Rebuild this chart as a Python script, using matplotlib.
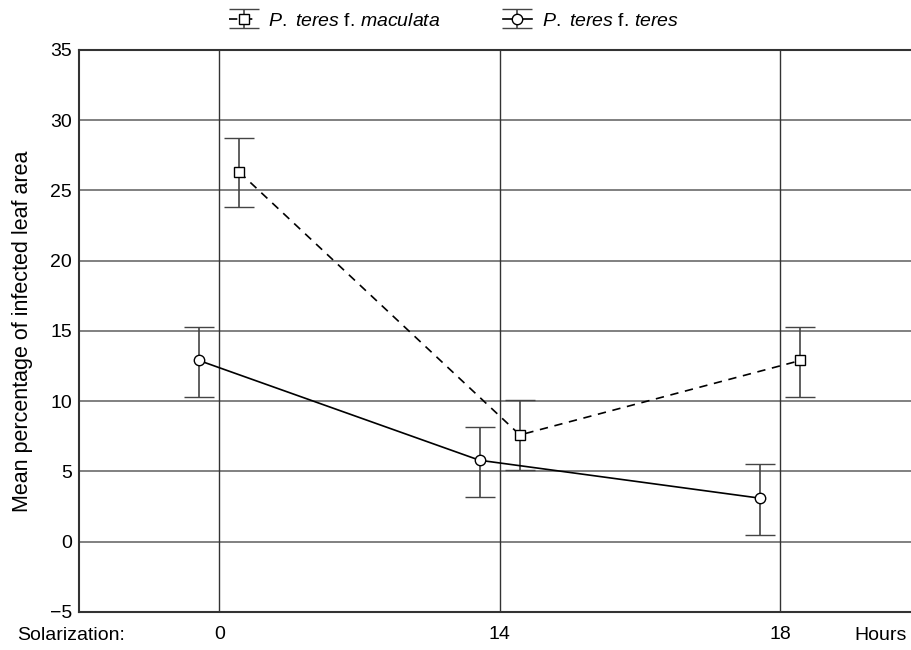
import matplotlib
matplotlib.use("Agg")
import matplotlib.pyplot as plt
import numpy as np

plt.rcParams['font.family'] = ['Liberation Sans', 'DejaVu Sans']
plt.rcParams['mathtext.fontset'] = 'custom'
plt.rcParams['mathtext.it'] = 'Liberation Sans:italic'
plt.rcParams['mathtext.rm'] = 'Liberation Sans'

# Solarization time (hours) as categories
hours = ["0", "14", "18"]

# P. teres f. maculata
mac_mean = [26.3, 7.6, 12.9]
mac_low = [23.8, 5.1, 10.3]
mac_high = [28.7, 10.1, 15.3]

# P. teres f. teres
ter_mean = [12.9, 5.8, 3.1]
ter_low = [10.3, 3.2, 0.5]
ter_high = [15.3, 8.2, 5.5]

x = np.arange(len(hours))
offset = 0.072

fig = plt.figure(figsize=(9.12, 6.5), dpi=100)
ax = fig.add_axes([0.0866, 0.0585, 1 - 0.0866, 0.8646])

# horizontal grid
for yv in range(-5, 36, 5):
    ax.axhline(yv, color="#808080", lw=1.4, zorder=0)
# vertical lines at categories
for xv in x:
    ax.axvline(xv, color="#333333", lw=1.0, zorder=0)

mac_err = [np.array(mac_mean) - np.array(mac_low), np.array(mac_high) - np.array(mac_mean)]
ter_err = [np.array(ter_mean) - np.array(ter_low), np.array(ter_high) - np.array(ter_mean)]

ax.errorbar(x + offset, mac_mean, yerr=mac_err, fmt="s", ls=(0, (5, 4)), color="black",
            lw=1.2, ecolor="#444444", elinewidth=1.2, capsize=10.5, capthick=1.2,
            mfc="white", mec="black", ms=7, mew=1.0,
            label=r"$\it{P.}$ $\it{teres}$ f. $\it{maculata}$", zorder=3)
ax.errorbar(x - offset, ter_mean, yerr=ter_err, fmt="o", ls="-", color="black",
            lw=1.2, ecolor="#444444", elinewidth=1.2, capsize=10.5, capthick=1.2,
            mfc="white", mec="black", ms=7.5, mew=1.0,
            label=r"$\it{P.}$ $\it{teres}$ f. $\it{teres}$", zorder=3)

ax.set_xlim(-0.5, 2.47)
ax.set_ylim(-5, 35)
ax.set_yticks(range(-5, 36, 5))
ax.set_yticklabels(["\u22125" if v < 0 else str(v) for v in range(-5, 36, 5)])
ax.set_xticks(x)
ax.set_xticklabels(hours)
ax.tick_params(length=0, labelsize=14, pad=5)
ax.tick_params(axis="x", pad=10)
ax.set_ylabel("Mean percentage of infected leaf area", fontsize=15.5, labelpad=12)

for s in ["left", "top", "bottom"]:
    ax.spines[s].set_linewidth(1.5)
    ax.spines[s].set_color("#333333")
ax.spines["right"].set_visible(False)

fig.text(0.078, 1 - 636 / 650, "Solarization:", fontsize=14, ha="center", va="center")
fig.text(0.965, 1 - 636 / 650, "Hours", fontsize=14, ha="center", va="center")

leg = ax.legend(loc="lower center", bbox_to_anchor=(0.45, 1.0), ncol=2, frameon=False,
                fontsize=14, handlelength=1.5, handletextpad=0.5, columnspacing=3.2,
                borderaxespad=0.65)

fig.savefig("out.png", dpi=100)
